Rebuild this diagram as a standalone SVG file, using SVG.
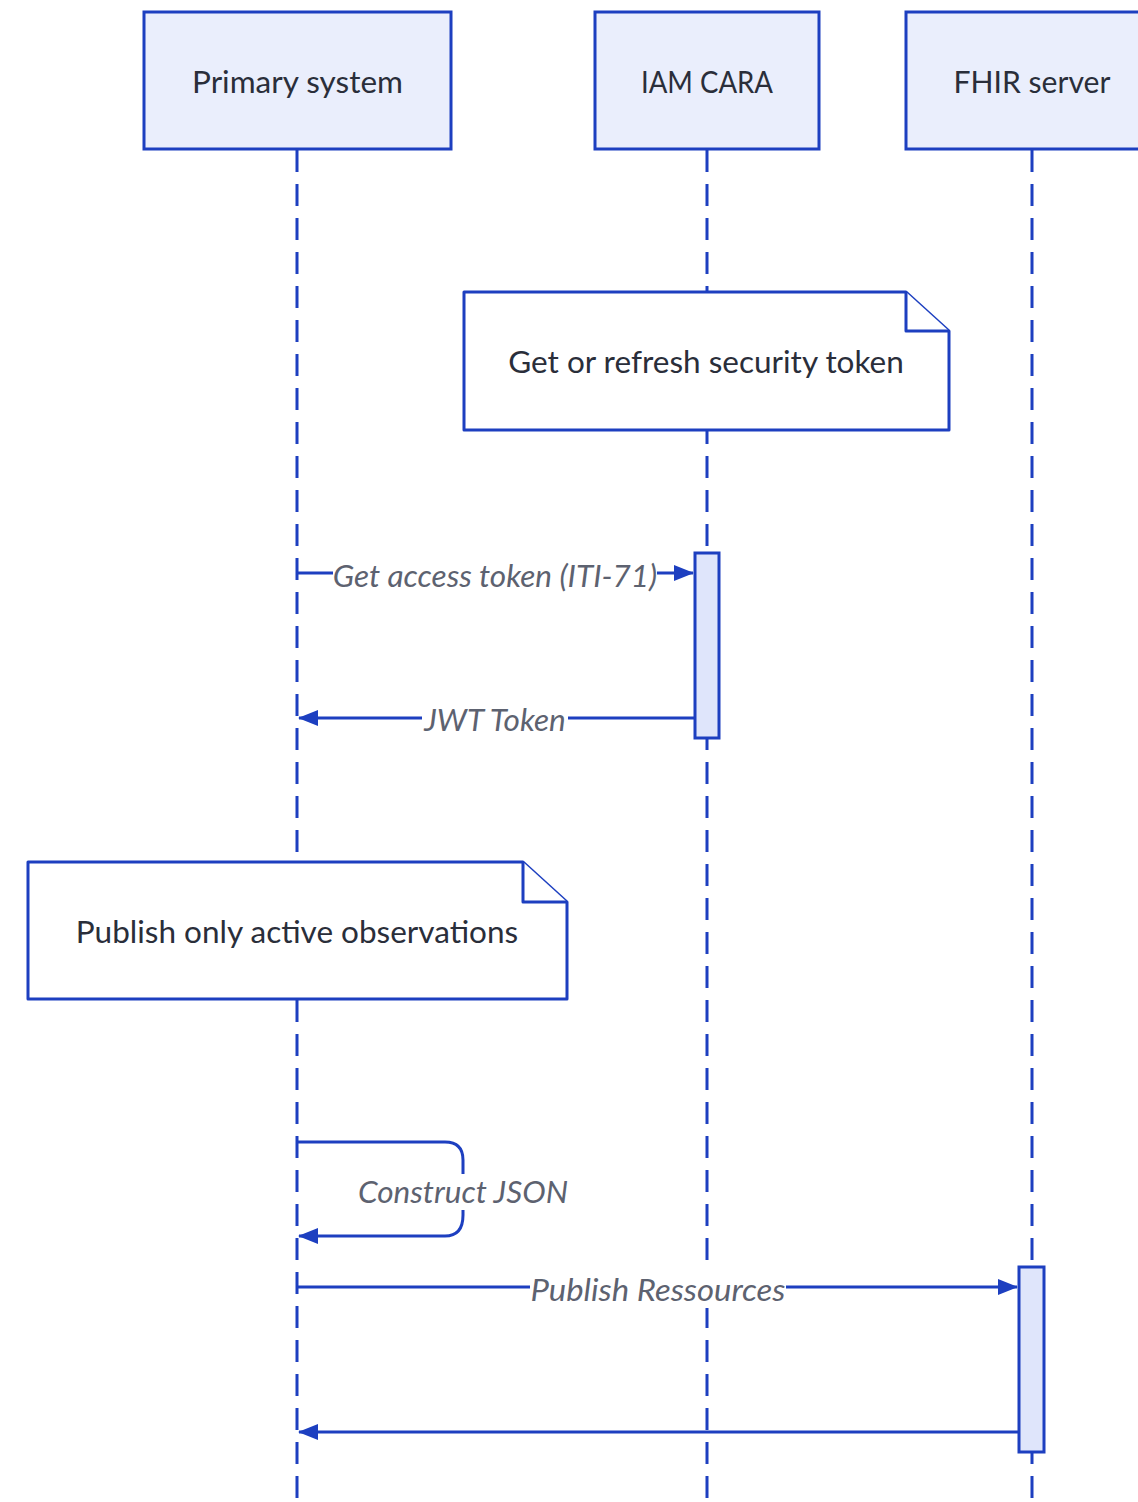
<svg xmlns="http://www.w3.org/2000/svg" width="1138" height="1502" viewBox="0 0 1138 1502">
<defs>
<style>
.actor{fill:#eaeefc;stroke:#1d3fc0;stroke-width:3}
.note{fill:#ffffff;stroke:#1d3fc0;stroke-width:3;stroke-linejoin:round}
.life{stroke:#1d3fc0;stroke-width:3;stroke-dasharray:22 12;fill:none}
.act{fill:#dfe5fb;stroke:#1d3fc0;stroke-width:3}
.msg{stroke:#1d3fc0;stroke-width:3;fill:none}
.t{font-family:Lato,"Noto Sans",sans-serif;font-size:31.5px;fill:#2a2e3a;text-anchor:middle;dominant-baseline:central}
.lbl{font-family:Lato,"Noto Sans",sans-serif;font-size:31.5px;font-style:italic;fill:#5d6270;text-anchor:middle;dominant-baseline:central}
.bg{fill:#ffffff}
</style>
<marker id="ah" viewBox="0 0 20 20" refX="19" refY="10" markerWidth="20" markerHeight="20" markerUnits="userSpaceOnUse" orient="auto">
<path d="M0,2 L20,10 L0,18 Z" fill="#1d3fc0"/>
</marker>
</defs>
<rect width="1138" height="1502" fill="#ffffff"/>
<g id="lifelines">
<line class="life" x1="297" y1="150" x2="297" y2="1502"/>
<line class="life" x1="707" y1="150" x2="707" y2="1502"/>
<line class="life" x1="1032" y1="150" x2="1032" y2="1502"/>
</g>
<g id="actor-primary">
<rect class="actor" x="144" y="12" width="307" height="137"/>
<text class="t" x="297.5" y="81">Primary system</text>
</g>
<g id="actor-iam">
<rect class="actor" x="595" y="12" width="224" height="137"/>
<text class="t" x="707" y="81" textLength="132" lengthAdjust="spacingAndGlyphs">IAM CARA</text>
</g>
<g id="actor-fhir">
<rect class="actor" x="906" y="12" width="252" height="137"/>
<text class="t" x="1032" y="81" textLength="157" lengthAdjust="spacingAndGlyphs">FHIR server</text>
</g>
<g id="note-token">
<path class="note" d="M464,292 H906 L949,331 V430 H464 Z"/>
<path class="note" d="M906,292 V331 H949" fill="none"/>
<text class="t" x="706" y="361">Get or refresh security token</text>
</g>
<g id="note-publish">
<path class="note" d="M28,862 H523 L567,902 V999 H28 Z"/>
<path class="note" d="M523,862 V902 H567" fill="none"/>
<text class="t" x="297" y="931">Publish only active observations</text>
</g>
<g id="act-iam">
<rect class="act" x="695" y="553" width="24" height="185"/>
</g>
<g id="act-fhir">
<rect class="act" x="1019" y="1267" width="25" height="185"/>
</g>
<g id="connectors">
<line class="msg" x1="297" y1="573" x2="693" y2="573" marker-end="url(#ah)"/>
<rect class="bg" x="333" y="558" width="324" height="34"/>
<text class="lbl" x="495" y="575">Get access token (ITI-71)</text>
<line class="msg" x1="695" y1="718" x2="299" y2="718" marker-end="url(#ah)"/>
<rect class="bg" x="422" y="703" width="146" height="34"/>
<text class="lbl" x="495" y="719">JWT Token</text>
<path class="msg" d="M297,1142 H445 Q463,1142 463,1160 V1215 Q463,1236 445,1236 H299" marker-end="url(#ah)"/>
<rect class="bg" x="356" y="1174" width="213" height="36"/>
<text class="lbl" x="463" y="1191">Construct JSON</text>
<line class="msg" x1="297" y1="1287" x2="1017" y2="1287" marker-end="url(#ah)"/>
<rect class="bg" x="530" y="1272" width="256" height="36"/>
<text class="lbl" x="658" y="1289" textLength="255" lengthAdjust="spacingAndGlyphs">Publish Ressources</text>
<line class="msg" x1="1019" y1="1432" x2="299" y2="1432" marker-end="url(#ah)"/>
</g>
</svg>
